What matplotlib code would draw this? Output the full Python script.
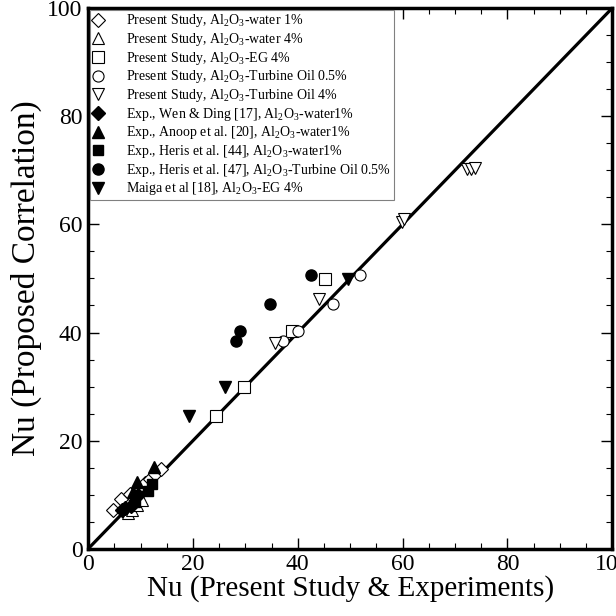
import numpy as np
import matplotlib.pyplot as plt

plt.rcParams['font.family'] = ['Liberation Serif', 'DejaVu Serif']
plt.rcParams['mathtext.fontset'] = 'custom'
plt.rcParams['mathtext.rm'] = 'Liberation Serif'
plt.rcParams['mathtext.it'] = 'Liberation Serif:italic'

# Present study (hollow markers)
ps_w1_x = [4.7, 6.3, 7.9, 9.6, 10.9, 11.8, 12.8, 13.9]
ps_w1_y = [7.2, 9.3, 10.2, 11.2, 12.2, 12.9, 13.8, 14.8]
ps_w4_x = [7.6, 8.3, 9.4, 10.2]
ps_w4_y = [6.6, 7.2, 8.2, 9.0]
ps_eg_x = [24.4, 29.8, 38.9, 45.2]
ps_eg_y = [24.6, 30.0, 40.3, 49.9]
ps_to05_x = [37.2, 40.1, 46.8, 51.8]
ps_to05_y = [38.4, 40.3, 45.2, 50.6]
ps_to4_x = [35.6, 44.1, 59.8, 60.3, 72.2, 73.0, 73.8]
ps_to4_y = [38.0, 46.2, 60.5, 60.9, 70.3, 70.3, 70.5]

# Experiments (filled markers)
wen_x = [6.4, 7.0, 8.2, 9.5]
wen_y = [7.1, 7.6, 8.0, 10.0]
anoop_x = [8.5, 9.3, 12.5]
anoop_y = [10.6, 12.4, 15.2]
heris44_x = [9.0, 11.5, 12.2]
heris44_y = [8.7, 10.7, 12.0]
heris47_x = [28.3, 29.0, 34.7, 42.5]
heris47_y = [38.4, 40.3, 45.2, 50.6]
maiga_x = [19.3, 26.1, 49.6]
maiga_y = [24.5, 30.0, 49.9]

fig = plt.figure(figsize=(6.16, 6.16), dpi=100)
ax = fig.add_axes([0.143, 0.109, 0.851, 0.878])

ax.plot([0, 100], [0, 100], color='black', lw=2.3, zorder=1)

hollow = dict(linestyle='none', mfc='white', mec='black', mew=0.8, zorder=3)
filled = dict(linestyle='none', color='black', zorder=4)

ax.plot(ps_w1_x, ps_w1_y, marker='D', ms=7.5, **hollow,
        label='Present Study, Al$_2$O$_3$-water 1%')
ax.plot(ps_w4_x, ps_w4_y, marker='^', ms=8, **hollow, label='Present Study, Al$_2$O$_3$-water 4%')
ax.plot(ps_eg_x, ps_eg_y, marker='s', ms=8, **hollow, label='Present Study, Al$_2$O$_3$-EG 4%')
ax.plot(ps_to05_x, ps_to05_y, marker='o', ms=8, **hollow, label='Present Study, Al$_2$O$_3$-Turbine Oil 0.5%')
ax.plot(ps_to4_x, ps_to4_y, marker='v', ms=8, **hollow, label='Present Study, Al$_2$O$_3$-Turbine Oil 4%')
ax.plot(wen_x, wen_y, marker='D', ms=7.5, **filled, label='Exp., Wen & Ding [17], Al$_2$O$_3$-water1%')
ax.plot(anoop_x, anoop_y, marker='^', ms=8, **filled, label='Exp., Anoop et al. [20], Al$_2$O$_3$-water1%')
ax.plot(heris44_x, heris44_y, marker='s', ms=7.5, **filled, label='Exp., Heris et al. [44], Al$_2$O$_3$-water1%')
ax.plot(heris47_x, heris47_y, marker='o', ms=8, **filled, label='Exp., Heris et al. [47], Al$_2$O$_3$-Turbine Oil 0.5%')
ax.plot(maiga_x, maiga_y, marker='v', ms=8, **filled, label='Maiga et al [18], Al$_2$O$_3$-EG 4%')

ax.set_xlim(0, 100)
ax.set_ylim(0, 100)
ax.set_xticks(np.arange(0, 101, 20))
ax.set_yticks(np.arange(0, 101, 20))
ax.set_xticks(np.arange(0, 101, 5), minor=True)
ax.set_yticks(np.arange(0, 101, 5), minor=True)
ax.tick_params(which='both', direction='in', top=True, right=True, labelsize=17, pad=4)
ax.tick_params(which='major', length=8, width=1)
ax.tick_params(which='minor', length=4, width=0.8)
for s in ax.spines.values():
    s.set_linewidth(2.5)

ax.set_xlabel('Nu (Present Study & Experiments)', fontsize=21, labelpad=0)
ax.set_ylabel('Nu (Proposed Correlation)', fontsize=24, labelpad=4)

leg = ax.legend(loc='upper left', fontsize=10, frameon=True, fancybox=False,
                edgecolor='gray', framealpha=1, borderaxespad=0.12, borderpad=0.2,
                handlelength=0.8, handletextpad=1.6, labelspacing=0.12)
leg.get_frame().set_linewidth(0.8)

fig.savefig('out.png', dpi=100)
